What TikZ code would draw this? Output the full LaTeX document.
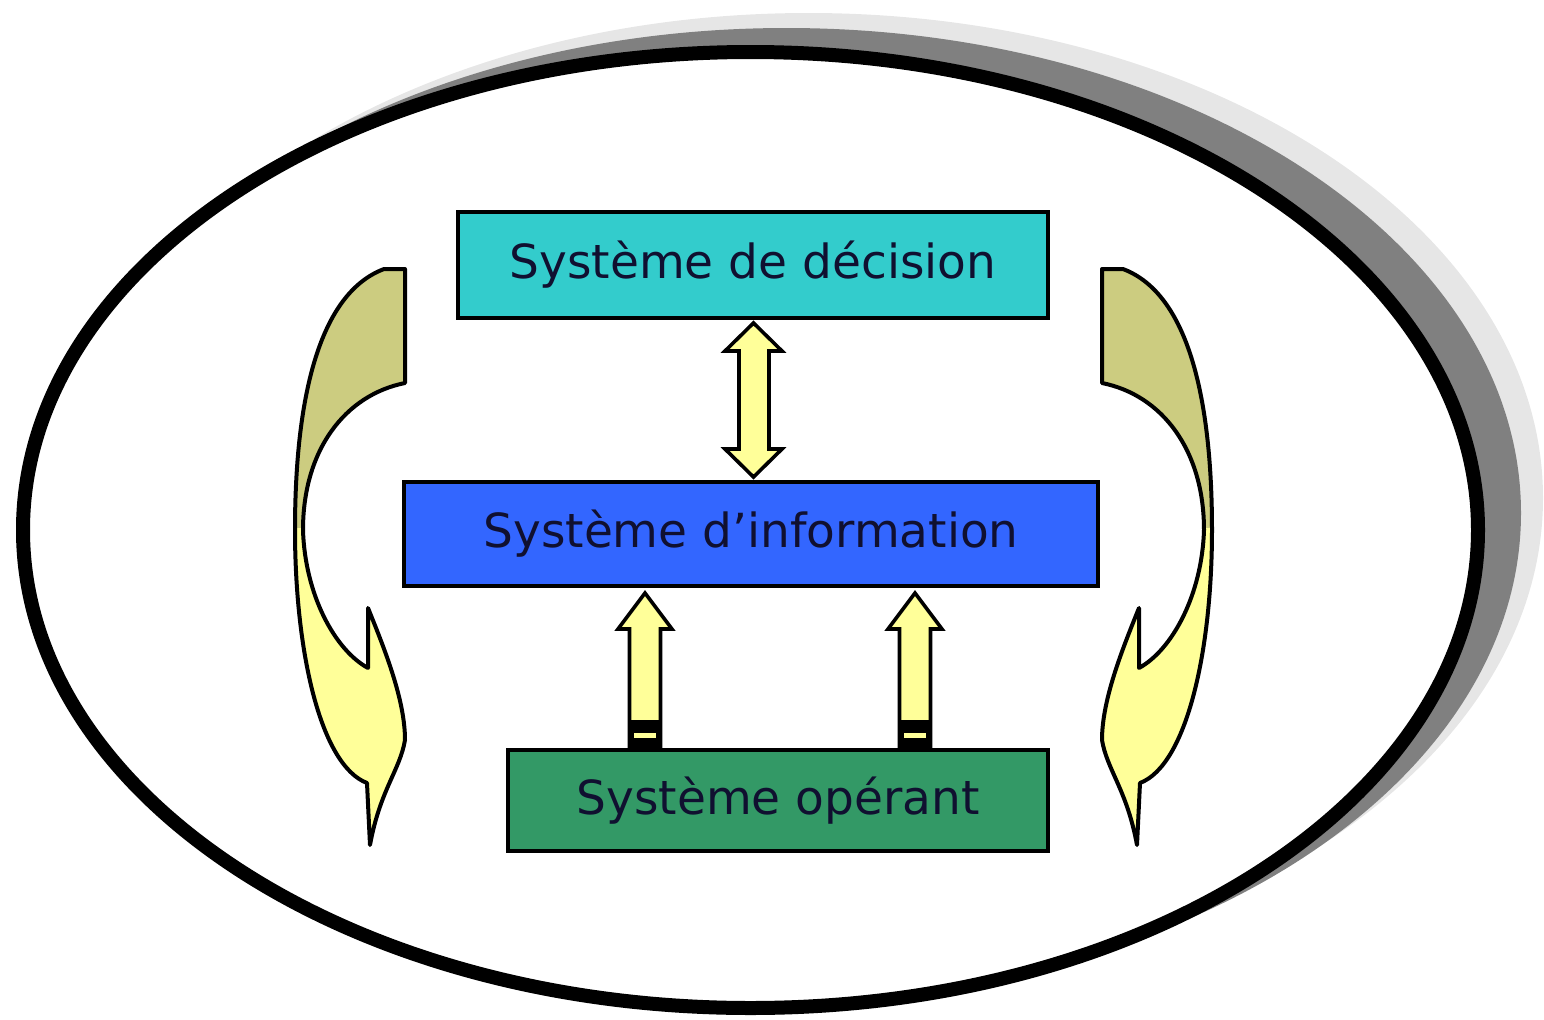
\documentclass[tikz,border=0pt]{standalone}
\usepackage{fontspec}
\setmainfont{DejaVu Sans}
\definecolor{decis}{HTML}{33CCCC}
\definecolor{infob}{HTML}{3366FF}
\definecolor{oper}{HTML}{339966}
\definecolor{pale}{HTML}{FFFF99}
\definecolor{khaki}{HTML}{CCCC80}
\definecolor{shadedark}{HTML}{808080}
\definecolor{shadelight}{HTML}{E6E6E6}
\definecolor{txt}{HTML}{101030}
\newcommand\CurvArrPath{(384,269) -- (405,269) -- (405,383) .. controls (345,395) and (303,450) .. (303,530) .. controls (305,595) and (335,650) .. (368,668) -- (368,608) .. controls (385,650) and (405,700) .. (405,740) .. controls (400,770) and (380,790) .. (370,845) -- (367,783) .. controls (320,765) and (295,650) .. (295,530) .. controls (295,410) and (315,295) .. (384,269) -- cycle}
\newcommand\CurvArrow{%
  \fill[pale] \CurvArrPath;
  \begin{scope}
    \clip \CurvArrPath;
    \fill[khaki] (250,250) rectangle (420,528);
  \end{scope}
  \draw[line width=2pt, line join=round] \CurvArrPath;
}
\begin{document}
\begin{tikzpicture}[x=0.5pt,y=-0.5pt,
  sysbox/.style={draw=black, line width=2pt, inner sep=0pt, text=txt,
    font=\fontsize{23.5pt}{28pt}\selectfont},
  blockarrow/.style={draw=black, line width=1.8pt, fill=pale, line join=miter}]
\useasboundingbox (0,0) rectangle (1544,1019);
% shadow and frame
\fill[shadelight] (808.5,498) ellipse [x radius=367.25pt, y radius=242.5pt];
\fill[shadedark] (786.5,513) ellipse [x radius=367.25pt, y radius=242.5pt];
\draw[line width=7pt, fill=white] (750.5,530) ellipse [x radius=363.75pt, y radius=239pt];
% boxes
\node[sysbox, fill=decis, minimum width=295pt, minimum height=53pt] (dec) at (753,265) {Système de décision};
\node[sysbox, fill=infob, minimum width=347pt, minimum height=52pt] (inf) at (751,534) {Système d’information};
\node[sysbox, fill=oper, minimum width=270pt, minimum height=50.5pt] (ope) at (778,800.5) {Système opérant};
% double arrow decision <-> information
\draw[blockarrow] (753.5,323) -- (782,351) -- (769,351) -- (769,449) -- (782,449) -- (753.5,477) -- (725,449) -- (739,449) -- (739,351) -- (725,351) -- cycle;
% up arrows operant -> information
\foreach \cx in {645,915}{
  \draw[blockarrow] (\cx,593) -- (\cx+27,629) -- (\cx+15.5,629) -- (\cx+15.5,746) -- (\cx-15.5,746) -- (\cx-15.5,629) -- (\cx-27,629) -- cycle;
  \fill[black] (\cx-15.5,720) rectangle (\cx+15.5,747);
  \fill[pale] (\cx-11,733) rectangle (\cx+11,738);
}
% curved arrows
\begin{scope}
  \CurvArrow
\end{scope}
\begin{scope}[shift={(1507,0)}, xscale=-1]
  \CurvArrow
\end{scope}
\end{tikzpicture}
\end{document}
